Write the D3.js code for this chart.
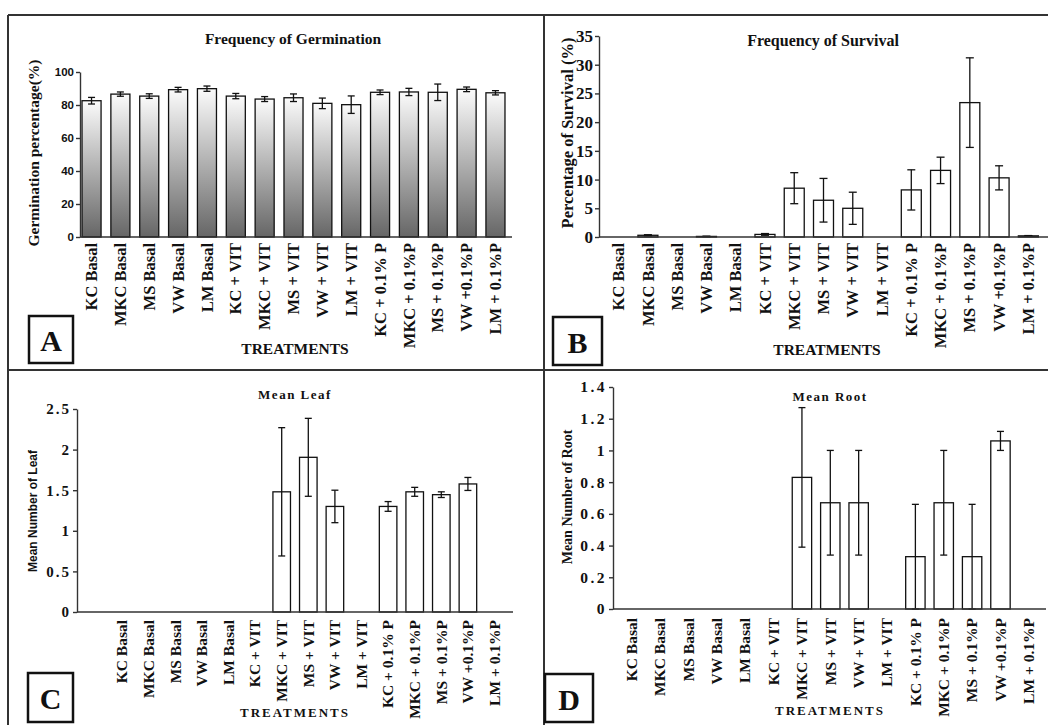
<!DOCTYPE html>
<html>
<head>
<meta charset="utf-8">
<script src="https://cdn.jsdelivr.net/npm/d3@7"></script>
<style>
  body { margin: 0; background: #fff; }
  svg { display: block; }
</style>
</head>
<body>
<div id="chart"></div>
<script>
// categories (same for all four panels)
const treatments = [
  "KC Basal", "MKC Basal", "MS Basal", "VW Basal", "LM Basal",
  "KC + VIT", "MKC + VIT", "MS + VIT", "VW + VIT", "LM + VIT",
  "KC + 0.1% P", "MKC + 0.1%P", "MS + 0.1%P", "VW +0.1%P", "LM + 0.1%P"
];

// A - germination (%)
const germMean = [82.6, 86.6, 85.4, 89.3, 89.9, 85.4, 83.6, 84.4, 81.0, 80.2, 87.7, 87.9, 87.7, 89.5, 87.4];
const germErr  = [2.0, 1.3, 1.4, 1.4, 1.6, 1.6, 1.5, 2.3, 3.2, 5.3, 1.4, 2.2, 5.0, 1.4, 1.3];
// B - survival (%)
const survMean = [0, 0.3, 0, 0.1, 0, 0.45, 8.5, 6.4, 5.0, 0, 8.2, 11.6, 23.4, 10.3, 0.2];
const survErr  = [0, 0.1, 0, 0.05, 0, 0.15, 2.7, 3.8, 2.8, 0, 3.5, 2.3, 7.8, 2.1, 0.05];
// C - mean leaf
const leafMean = [0, 0, 0, 0, 0, 0, 1.48, 1.905, 1.30, 0, 1.30, 1.48, 1.445, 1.577, 0];
const leafErr  = [0, 0, 0, 0, 0, 0, 0.79, 0.48, 0.20, 0, 0.06, 0.055, 0.035, 0.08, 0];
// D - mean root
const rootMean = [0, 0, 0, 0, 0, 0, 0.83, 0.67, 0.67, 0, 0.33, 0.67, 0.33, 1.06, 0];
const rootErr  = [0, 0, 0, 0, 0, 0, 0.44, 0.33, 0.33, 0, 0.33, 0.33, 0.33, 0.06, 0];

// tick labels
const ticksA = [0, 20, 40, 60, 80, 100];
const ticksB = [0, 5, 10, 15, 20, 25, 30, 35];
const ticksC = [0, 0.5, 1, 1.5, 2, 2.5];
const ticksD = [0, 0.2, 0.4, 0.6, 0.8, 1, 1.2, 1.4];

const W = 1048, H = 725;
const serif = "'Liberation Serif', 'Times New Roman', serif";
const sans = "'Liberation Sans', Arial, sans-serif";

const svg = d3.select("#chart").append("svg")
  .attr("width", W).attr("height", H);

const defs = svg.append("defs");
const grad = defs.append("linearGradient")
  .attr("id", "barGrad")
  .attr("x1", 0).attr("y1", 0).attr("x2", 0).attr("y2", 1);
grad.append("stop").attr("offset", "0%").attr("stop-color", "#fbfbfb");
grad.append("stop").attr("offset", "100%").attr("stop-color", "#666");

// frame lines
const frame = svg.append("g").attr("stroke", "#333").attr("stroke-width", 2);
frame.append("line").attr("x1", 8).attr("x2", W).attr("y1", 15).attr("y2", 15);
frame.append("line").attr("x1", 8).attr("x2", 8).attr("y1", 15).attr("y2", H);
frame.append("line").attr("x1", 544).attr("x2", 544).attr("y1", 15).attr("y2", H);
frame.append("line").attr("x1", 8).attr("x2", W).attr("y1", 370).attr("y2", 370);

function drawPanel(o) {
  const g = svg.append("g");

  const y = d3.scaleLinear().domain([0, o.ymax]).range([o.y0, o.yTop]);
  const x = d3.scaleBand().domain(treatments)
    .range([o.x0, o.x1])
    .paddingInner(o.padIn).paddingOuter(o.padOut);

  const data = treatments.map((t, i) => ({t, v: o.mean[i], e: o.err[i]}));

  // bars
  g.selectAll(".bar")
    .data(data.filter(d => d.v > 0))
    .enter().append("rect")
    .attr("class", "bar")
    .attr("x", d => x(d.t))
    .attr("y", d => y(d.v))
    .attr("width", x.bandwidth())
    .attr("height", d => y(0) - y(d.v))
    .attr("fill", o.fill)
    .attr("stroke", "#111")
    .attr("stroke-width", 1.3);

  // error bars
  const eb = g.selectAll(".err")
    .data(data.filter(d => d.e > 0))
    .enter().append("g")
    .attr("class", "err")
    .attr("stroke", "#111")
    .attr("stroke-width", 1.3);
  const cx = d => x(d.t) + x.bandwidth() / 2;
  eb.append("line")
    .attr("x1", cx).attr("x2", cx)
    .attr("y1", d => y(d.v + d.e)).attr("y2", d => y(Math.max(0, d.v - d.e)));
  eb.append("line")
    .attr("x1", d => cx(d) - o.cap).attr("x2", d => cx(d) + o.cap)
    .attr("y1", d => y(d.v + d.e)).attr("y2", d => y(d.v + d.e));
  eb.append("line")
    .attr("x1", d => cx(d) - o.cap).attr("x2", d => cx(d) + o.cap)
    .attr("y1", d => y(Math.max(0, d.v - d.e))).attr("y2", d => y(Math.max(0, d.v - d.e)));

  // y axis
  const ya = g.append("g")
    .attr("transform", `translate(${o.ax},0)`)
    .call(d3.axisLeft(y).tickValues(o.ticks).tickSize(4).tickSizeOuter(0).tickFormat(d => String(d)));
  ya.selectAll("path, line").attr("stroke", "#333").attr("stroke-width", 1.4);
  ya.selectAll("text")
    .attr("font-family", o.tickFont)
    .attr("font-weight", "bold")
    .attr("font-size", o.tickSize)
    .attr("letter-spacing", o.tickLs || 0)
    .attr("fill", "#111")
    .attr("x", -6);

  // x axis line
  g.append("line")
    .attr("x1", o.ax).attr("x2", o.axEnd)
    .attr("y1", y(0)).attr("y2", y(0))
    .attr("stroke", "#333").attr("stroke-width", 1.6);

  // x tick labels
  const xa = g.append("g")
    .attr("transform", `translate(0,${y(0)})`)
    .call(d3.axisBottom(x).tickSize(0));
  xa.select(".domain").remove();
  xa.selectAll("text")
    .attr("transform", "rotate(-90)")
    .attr("text-anchor", "end")
    .attr("x", -o.labGap)
    .attr("y", 0)
    .attr("dy", "0.34em")
    .attr("font-family", serif)
    .attr("font-weight", "bold")
    .attr("font-size", o.labSize)
    .attr("fill", "#111");

  // title
  g.append("text")
    .attr("x", o.titleX).attr("y", o.titleY)
    .attr("text-anchor", "middle").attr("dominant-baseline", "central")
    .attr("font-family", serif).attr("font-weight", "bold")
    .attr("font-size", o.titleSize)
    .attr("letter-spacing", o.titleLs || 0)
    .attr("fill", "#111")
    .text(o.title);

  // y label
  g.append("text")
    .attr("transform", `translate(${o.ylabX},${o.ylabY}) rotate(-90)`)
    .attr("text-anchor", "middle").attr("dominant-baseline", "central")
    .attr("font-family", o.ylabFont).attr("font-weight", "bold")
    .attr("font-size", o.ylabSize)
    .attr("fill", "#111")
    .text(o.ylab);

  // x label
  g.append("text")
    .attr("x", o.xlabX).attr("y", o.xlabY)
    .attr("text-anchor", "middle").attr("dominant-baseline", "central")
    .attr("font-family", serif).attr("font-weight", "bold")
    .attr("font-size", o.xlabSize)
    .attr("letter-spacing", o.xlabLs || 0)
    .attr("fill", "#111")
    .text("TREATMENTS");

  // panel letter box
  const b = o.box;
  g.append("rect")
    .attr("x", b[0]).attr("y", b[1]).attr("width", b[2]).attr("height", b[3])
    .attr("fill", "#fff").attr("stroke", "#111").attr("stroke-width", 2.5);
  g.append("text")
    .attr("x", b[0] + b[2] / 2).attr("y", b[1] + b[3] / 2 + 1)
    .attr("text-anchor", "middle").attr("dominant-baseline", "central")
    .attr("font-family", serif).attr("font-weight", "bold")
    .attr("font-size", 30).attr("fill", "#111")
    .text(o.letter);
}

drawPanel({
  mean: germMean, err: germErr, ymax: 100, ticks: ticksA,
  y0: 237, yTop: 72, ax: 80, axEnd: 512,
  x0: 80, x1: 507, padIn: 0.34, padOut: 0.07, cap: 3.5,
  fill: "url(#barGrad)",
  tickFont: sans, tickSize: 11.5,
  labGap: 6, labSize: 16.5,
  title: "Frequency of Germination", titleX: 293, titleY: 38, titleSize: 15.5,
  ylab: "Germination percentage(%)", ylabX: 33, ylabY: 153, ylabFont: serif, ylabSize: 15.5,
  xlabX: 295, xlabY: 348, xlabSize: 15.5,
  box: [29, 316, 44, 47], letter: "A"
});

drawPanel({
  mean: survMean, err: survErr, ymax: 35, ticks: ticksB,
  y0: 237, yTop: 36, ax: 599, axEnd: 1048,
  x0: 599, x1: 1048, padIn: 0.317, padOut: 0.33, cap: 4,
  fill: "#fff",
  tickFont: serif, tickSize: 17,
  labGap: 6, labSize: 16.5,
  title: "Frequency of Survival", titleX: 823, titleY: 40, titleSize: 16,
  ylab: "Percentage of Survival (%)", ylabX: 567, ylabY: 133, ylabFont: serif, ylabSize: 16.5,
  xlabX: 827, xlabY: 349, xlabSize: 15.5,
  box: [553, 317, 49, 48], letter: "B"
});

drawPanel({
  mean: leafMean, err: leafErr, ymax: 2.5, ticks: ticksC,
  y0: 612, yTop: 409, ax: 77, axEnd: 513,
  x0: 104, x1: 512.6, padIn: 0.34, padOut: 0.35, cap: 3.5,
  fill: "#fff",
  tickFont: serif, tickSize: 15, tickLs: 2,
  labGap: 8, labSize: 15.5,
  title: "Mean Leaf", titleX: 295, titleY: 394, titleSize: 13, titleLs: 1.5,
  ylab: "Mean Number of Leaf", ylabX: 33, ylabY: 511, ylabFont: sans, ylabSize: 12,
  xlabX: 295, xlabY: 712, xlabSize: 13, xlabLs: 2,
  box: [28, 673, 45, 49], letter: "C"
});

drawPanel({
  mean: rootMean, err: rootErr, ymax: 1.4, ticks: ticksD,
  y0: 609, yTop: 387, ax: 613, axEnd: 1046,
  x0: 613, x1: 1047.6, padIn: 0.316, padOut: 0.32, cap: 3.5,
  fill: "#fff",
  tickFont: serif, tickSize: 15.5, tickLs: 2.5,
  labGap: 9, labSize: 15.5,
  title: "Mean Root", titleX: 830, titleY: 396, titleSize: 13, titleLs: 1.5,
  ylab: "Mean Number of Root", ylabX: 567, ylabY: 497, ylabFont: serif, ylabSize: 14,
  xlabX: 830, xlabY: 710, xlabSize: 13, xlabLs: 2,
  box: [545, 674, 48, 48], letter: "D"
});
</script>
</body>
</html>
